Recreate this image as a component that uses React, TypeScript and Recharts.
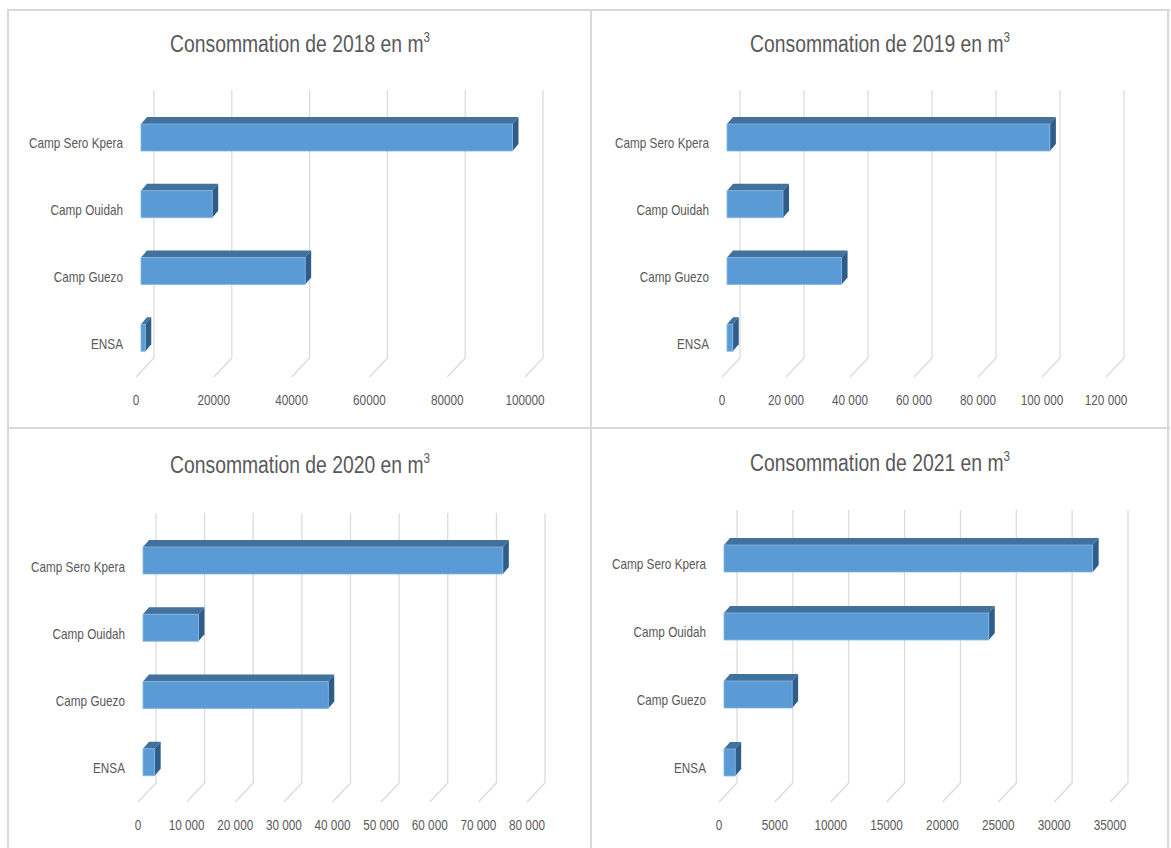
import { BarChart, Bar, XAxis, YAxis, CartesianGrid } from 'recharts'

// sites, top to bottom as drawn
const sites = ['Camp Sero Kpera', 'Camp Ouidah', 'Camp Guezo', 'ENSA']

const conso2018 = [95500, 18300, 42200, 1100]
const conso2019 = [100900, 17500, 35800, 1800]
const conso2020 = [74000, 11400, 38100, 2400]
const conso2021 = [33000, 23700, 6100, 1000]

const ticks2018 = [0, 20000, 40000, 60000, 80000, 100000]
const ticks2019 = [0, 20000, 40000, 60000, 80000, 100000, 120000]
const ticks2020 = [0, 10000, 20000, 30000, 40000, 50000, 60000, 70000, 80000]
const ticks2021 = [0, 5000, 10000, 15000, 20000, 25000, 30000, 35000]

const TEXT = '#595959'
const GRID = '#d9d9d9'
const FONT = '"Liberation Sans", Arial, sans-serif'
const SQUEEZE = 0.84

// 3d offsets
const BACK_DX = 18
const BACK_DY = 20
const FRONT_DX = 5
const FRONT_DY = -6
const DEPTH_X = 6
const DEPTH_Y = 7

const plain = (v: number) => String(v)
const spaced = (v: number) => String(v).replace(/\B(?=(\d{3})+(?!\d))/g, ' ')

function gridLine(props: any) {
  const { x1, y1, y2, key } = props
  return (
    <g key={key}>
      <line x1={x1 + BACK_DX} y1={y1 - BACK_DY} x2={x1 + BACK_DX} y2={y2 - BACK_DY + 1} stroke={GRID} strokeWidth={1.2} />
      <line x1={x1 + BACK_DX} y1={y2 - BACK_DY + 1} x2={x1} y2={y2} stroke={GRID} strokeWidth={1.2} />
    </g>
  )
}

function Bar3D(props: any) {
  const { x, y, width, height } = props
  if (width == null || height == null) return null
  const fx = x + FRONT_DX
  const fy = y + FRONT_DY
  const w = Math.max(width, 0)
  const top = `${fx},${fy} ${fx + DEPTH_X},${fy - DEPTH_Y} ${fx + w + DEPTH_X},${fy - DEPTH_Y} ${fx + w},${fy}`
  const side = `${fx + w},${fy} ${fx + w + DEPTH_X},${fy - DEPTH_Y} ${fx + w + DEPTH_X},${fy + height - DEPTH_Y} ${fx + w},${fy + height}`
  return (
    <g>
      <polygon points={top} fill="#41719c" />
      <polygon points={side} fill="#2f5d89" />
      <rect x={fx} y={fy} width={w} height={height} fill="#5b9bd5" stroke="#86b6e3" strokeWidth={0.8} />
    </g>
  )
}

function makeXTick(fmt: (v: number) => string) {
  return function XTick(props: any) {
    const { x, y, payload } = props
    return (
      <g transform={`translate(${x},${y + 28})`}>
        <text transform={`scale(${SQUEEZE},1)`} textAnchor="middle" fill={TEXT} fontSize={14} fontFamily={FONT}>
          {fmt(payload.value)}
        </text>
      </g>
    )
  }
}

function YTick(props: any) {
  const { x, y, payload } = props
  return (
    <g transform={`translate(${x - 13},${y + 5})`}>
      <text transform={`scale(${SQUEEZE},1)`} textAnchor="end" fill={TEXT} fontSize={14} fontFamily={FONT}>
        {payload.value}
      </text>
    </g>
  )
}

interface PanelProps {
  year: string
  values: number[]
  ticks: number[]
  fmt: (v: number) => string
  left: number
  top: number
  width: number
  height: number
  yWidth: number
  margin: { top: number; right: number; left: number; bottom: number }
  titleX: number
  titleY: number
}

function Panel(p: PanelProps) {
  const data = sites.map((name, i) => ({ name, value: p.values[i] }))
  return (
    <>
      <div
        style={{
          position: 'absolute',
          left: p.titleX - 250,
          top: p.titleY - 11,
          width: 500,
          textAlign: 'center',
          fontFamily: FONT,
          fontSize: 23,
          lineHeight: 1,
          color: TEXT,
          transform: `scaleX(${SQUEEZE})`,
          whiteSpace: 'nowrap',
        }}
      >
        Consommation de {p.year} en m
        <span style={{ fontSize: '0.6em', position: 'relative', top: '-0.75em' }}>3</span>
      </div>
      <div style={{ position: 'absolute', left: p.left, top: p.top }}>
        <BarChart width={p.width} height={p.height} data={data} layout="vertical" margin={p.margin} barSize={27}>
          <CartesianGrid horizontal={false} vertical={gridLine} />
          <XAxis
            type="number"
            domain={[0, p.ticks[p.ticks.length - 1]]}
            ticks={p.ticks}
            axisLine={false}
            tickLine={false}
            tickSize={0}
            tickMargin={0}
            height={40}
            interval={0}
            tick={makeXTick(p.fmt)}
          />
          <YAxis
            type="category"
            dataKey="name"
            axisLine={false}
            tickLine={false}
            tickSize={0}
            tickMargin={0}
            width={p.yWidth}
            interval={0}
            tick={YTick}
          />
          <Bar dataKey="value" shape={Bar3D} isAnimationActive={false} />
        </BarChart>
      </div>
    </>
  )
}

const line = (s: React.CSSProperties) => <div style={{ position: 'absolute', background: GRID, ...s }} />

export default function App() {
  return (
    <div style={{ position: 'absolute', left: 0, top: 0, width: 1171, height: 848, background: '#fff', overflow: 'hidden' }}>
      {line({ left: 7, top: 9, width: 1163, height: 2 })}
      {line({ left: 7, top: 427, width: 1163, height: 2 })}
      {line({ left: 7, top: 9, width: 2, height: 840 })}
      {line({ left: 590, top: 9, width: 2, height: 840 })}
      {line({ left: 1167, top: 9, width: 2, height: 840 })}
      <Panel
        year="2018"
        values={conso2018}
        ticks={ticks2018}
        fmt={plain}
        left={8}
        top={10}
        width={583}
        height={418}
        yWidth={128}
        margin={{ top: 100, right: 66, left: 0, bottom: 11 }}
        titleX={300}
        titleY={44}
      />
      <Panel
        year="2019"
        values={conso2019}
        ticks={ticks2019}
        fmt={spaced}
        left={591}
        top={10}
        width={577}
        height={418}
        yWidth={131}
        margin={{ top: 100, right: 62, left: 0, bottom: 11 }}
        titleX={880}
        titleY={44}
      />
      <Panel
        year="2020"
        values={conso2020}
        ticks={ticks2020}
        fmt={spaced}
        left={8}
        top={428}
        width={583}
        height={420}
        yWidth={130}
        margin={{ top: 105, right: 64, left: 0, bottom: 6 }}
        titleX={300}
        titleY={465}
      />
      <Panel
        year="2021"
        values={conso2021}
        ticks={ticks2021}
        fmt={plain}
        left={591}
        top={428}
        width={577}
        height={420}
        yWidth={128}
        margin={{ top: 102, right: 58, left: 0, bottom: 6 }}
        titleX={880}
        titleY={463}
      />
    </div>
  )
}
